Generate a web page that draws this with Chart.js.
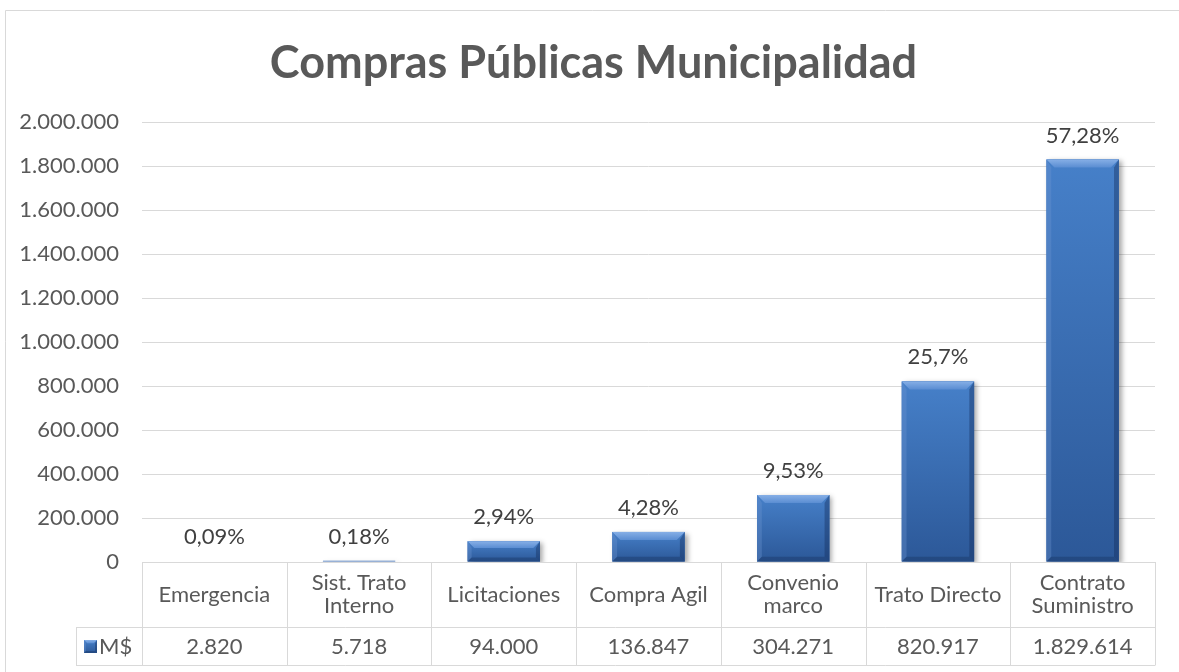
<!DOCTYPE html>
<html>
<head>
<meta charset="utf-8">
<script src="https://cdn.jsdelivr.net/npm/chart.js@4"></script>
<style>
  html, body { margin: 0; padding: 0; background: #fff; overflow: hidden; }
  #wrap { width: 1179px; height: 672px; }
</style>
</head>
<body>
<div id="wrap"><canvas id="compras" width="1179" height="672"></canvas></div>
<script>
const categorias = [
  ['Emergencia'],
  ['Sist. Trato', 'Interno'],
  ['Licitaciones'],
  ['Compra Agil'],
  ['Convenio', 'marco'],
  ['Trato Directo'],
  ['Contrato', 'Suministro']
];
const montos = [2820, 5718, 94000, 136847, 304271, 820917, 1829614];
const porcentajes = ['0,09%', '0,18%', '2,94%', '4,28%', '9,53%', '25,7%', '57,28%'];
const serieNombre = 'M$';
const tituloTexto = 'Compras Públicas Municipalidad';

const FONT = 'Lato, "Open Sans", sans-serif';
const GRIS = '#595959';
const LINEA = '#d9d9d9';

const miles = v => String(v).replace(/\B(?=(\d{3})+(?!\d))/g, '.');

// bevel look on each bar, like the Excel preset
function bevel(ctx, x, y, w, h) {
  if (h < 2) return;
  const b = Math.min(8, h / 3, w / 4);
  let g = ctx.createLinearGradient(0, y, 0, y + h);
  g.addColorStop(0, '#4680c9');
  g.addColorStop(1, '#2c5898');
  ctx.fillStyle = g;
  ctx.fillRect(x, y, w, h);
  // top facet
  g = ctx.createLinearGradient(0, y, 0, y + b);
  g.addColorStop(0, '#86afe6');
  g.addColorStop(1, '#5a8dd2');
  ctx.fillStyle = g;
  ctx.beginPath();
  ctx.moveTo(x, y); ctx.lineTo(x + w, y); ctx.lineTo(x + w - b, y + b); ctx.lineTo(x + b, y + b);
  ctx.closePath(); ctx.fill();
  // left facet
  ctx.fillStyle = 'rgba(110,150,210,0.35)';
  ctx.beginPath();
  ctx.moveTo(x, y); ctx.lineTo(x + b * 0.6, y + b); ctx.lineTo(x + b * 0.6, y + h - b * 0.6); ctx.lineTo(x, y + h);
  ctx.closePath(); ctx.fill();
  // right facet
  ctx.fillStyle = 'rgba(20,45,90,0.4)';
  ctx.beginPath();
  ctx.moveTo(x + w, y); ctx.lineTo(x + w - b * 0.6, y + b); ctx.lineTo(x + w - b * 0.6, y + h - b * 0.6); ctx.lineTo(x + w, y + h);
  ctx.closePath(); ctx.fill();
  // bottom facet
  ctx.fillStyle = 'rgba(20,45,90,0.35)';
  ctx.beginPath();
  ctx.moveTo(x, y + h); ctx.lineTo(x + b * 0.6, y + h - b * 0.6); ctx.lineTo(x + w - b * 0.6, y + h - b * 0.6); ctx.lineTo(x + w, y + h);
  ctx.closePath(); ctx.fill();
}

const marcoPlugin = {
  id: 'marco',
  beforeDraw(chart) {
    const ctx = chart.ctx;
    ctx.save();
    ctx.fillStyle = '#fff';
    ctx.fillRect(0, 0, chart.width, chart.height);
    // frame: only top and left edges fall inside the picture
    ctx.strokeStyle = LINEA;
    ctx.lineWidth = 1;
    ctx.beginPath();
    ctx.moveTo(5.5, chart.height); ctx.lineTo(5.5, 10.5); ctx.lineTo(chart.width, 10.5);
    ctx.stroke();
    // title, centred on the chart frame
    ctx.fillStyle = GRIS;
    ctx.font = 'bold 45px ' + FONT;
    ctx.textAlign = 'center';
    ctx.textBaseline = 'middle';
    ctx.fillText(tituloTexto, chart.width / 2 + 4, 63);
    ctx.restore();
  }
};

const barrasPlugin = {
  id: 'barras',
  beforeDatasetsDraw(chart) {
    const ctx = chart.ctx;
    ctx.save();
    ctx.shadowColor = 'rgba(0,0,0,0.35)';
    ctx.shadowBlur = 5;
    ctx.shadowOffsetX = 3;
    ctx.shadowOffsetY = 2;
  },
  afterDatasetsDraw(chart) {
    const ctx = chart.ctx;
    ctx.restore();
    const meta = chart.getDatasetMeta(0);
    ctx.save();
    meta.data.forEach(bar => {
      const w = bar.width;
      bevel(ctx, bar.x - w / 2, bar.y, w, bar.base - bar.y);
    });
    // percentage labels
    ctx.fillStyle = '#404040';
    ctx.font = '22px ' + FONT;
    ctx.textAlign = 'center';
    ctx.textBaseline = 'middle';
    meta.data.forEach((bar, i) => {
      ctx.fillText(porcentajes[i], bar.x, bar.y - 24);
    });
    ctx.restore();
  }
};

const tablaPlugin = {
  id: 'tabla',
  afterDraw(chart) {
    const ctx = chart.ctx;
    const area = chart.chartArea;
    const n = categorias.length;
    const colW = (area.right - area.left) / n;
    const top = area.bottom;
    const mid = top + 65;
    const bot = top + 103;
    const leyX = area.left - 66;
    ctx.save();
    ctx.strokeStyle = LINEA;
    ctx.lineWidth = 1;
    ctx.beginPath();
    for (let i = 0; i <= n; i++) {
      const x = Math.round(area.left + i * colW) + 0.5;
      ctx.moveTo(x, top); ctx.lineTo(x, bot + 0.5);
    }
    ctx.moveTo(leyX + 0.5, mid + 0.5); ctx.lineTo(leyX + 0.5, bot + 0.5);
    ctx.moveTo(leyX, mid + 0.5); ctx.lineTo(area.right, mid + 0.5);
    ctx.moveTo(leyX, bot + 0.5); ctx.lineTo(area.right, bot + 0.5);
    ctx.moveTo(area.left, top + 0.5); ctx.lineTo(area.right, top + 0.5);
    ctx.stroke();

    ctx.fillStyle = GRIS;
    ctx.font = '22px ' + FONT;
    ctx.textAlign = 'center';
    ctx.textBaseline = 'middle';
    const xs = chart.scales.x;
    categorias.forEach((lineas, i) => {
      const cx = xs.getPixelForValue(i);
      const cy = (top + mid) / 2;
      const lh = 23;
      lineas.forEach((t, k) => {
        ctx.fillText(t, cx, cy + (k - (lineas.length - 1) / 2) * lh);
      });
      ctx.fillText(miles(montos[i]), cx, (mid + bot) / 2 + 1);
    });

    // legend key
    const ky = (mid + bot) / 2;
    const kx = leyX + 8;
    bevel(ctx, kx, ky - 6, 13, 13);
    ctx.fillStyle = GRIS;
    ctx.textAlign = 'left';
    ctx.fillText(serieNombre, kx + 15, ky + 1);
    ctx.restore();
  }
};

new Chart(document.getElementById('compras'), {
  type: 'bar',
  data: {
    labels: categorias,
    datasets: [{
      label: serieNombre,
      data: montos,
      backgroundColor: '#3a6db5',
      borderWidth: 0,
      categoryPercentage: 1,
      barPercentage: 0.5
    }]
  },
  options: {
    responsive: false,
    devicePixelRatio: 1,
    animation: false,
    layout: { padding: { left: 0, right: 24, top: 122, bottom: 110 } },
    plugins: {
      legend: { display: false },
      tooltip: { enabled: false },
      title: { display: false }
    },
    scales: {
      x: { display: false },
      y: {
        min: 0,
        max: 2000000,
        afterFit: (scale) => { scale.width = 142; },
        ticks: {
          stepSize: 200000,
          color: GRIS,
          padding: 23,
          font: { family: FONT, size: 22 },
          callback: (v) => miles(v)
        },
        grid: { color: LINEA, drawTicks: false },
        border: { display: false }
      }
    }
  },
  plugins: [marcoPlugin, barrasPlugin, tablaPlugin]
});
</script>
</body>
</html>
